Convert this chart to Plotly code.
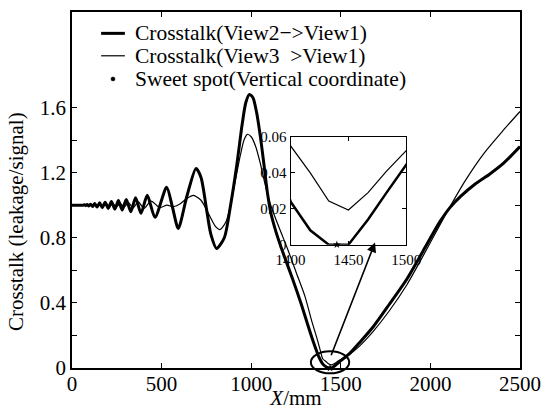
import plotly.graph_objects as go

# ---------------- data ----------------
# Crosstalk (View2 -> View1), thick curve
X_THICK = [0, 60, 70, 77, 85, 94, 104, 115, 127, 140, 154, 169, 185, 202, 220, 239,
           259, 280, 303, 328, 355, 385, 420, 463, 528, 560, 593, 640, 692, 720,
           750, 775, 807, 850, 885, 920, 950, 970, 990, 1010, 1030, 1050, 1070,
           1090, 1110, 1140, 1180, 1230, 1280, 1320, 1350, 1375, 1400, 1417, 1433,
           1450, 1467, 1483, 1500, 1550, 1600, 1681, 1770, 1868, 1960, 2054, 2109,
           2170, 2250, 2330, 2407, 2500]
Y_THICK = [1.0, 1.0, 1.002, 0.997, 1.004, 0.995, 1.006, 0.992, 1.010, 0.988, 1.014,
           0.984, 1.018, 0.980, 1.022, 0.975, 1.028, 0.970, 1.035, 0.960, 1.045,
           0.950, 1.060, 0.925, 1.110, 0.990, 0.857, 1.050, 1.225, 1.170, 0.980,
           0.820, 0.734, 0.800, 1.000, 1.250, 1.500, 1.630, 1.680, 1.660, 1.570,
           1.430, 1.260, 1.080, 0.950, 0.830, 0.700, 0.550, 0.390, 0.250, 0.150,
           0.075, 0.024, 0.008, 0.0, 0.0, 0.014, 0.029, 0.045, 0.090, 0.150, 0.253,
           0.390, 0.545, 0.720, 0.900, 0.985, 1.055, 1.130, 1.190, 1.256, 1.360]

# Crosstalk (View3 -> View1), thin curve
X_THIN = [0, 100, 134, 147, 162, 177, 194, 211, 229, 249, 269, 291, 315, 341, 370,
          402, 441, 490, 530, 565, 600, 640, 677, 720, 770, 800, 826, 860, 890,
          915, 940, 960, 978, 1000, 1025, 1050, 1075, 1100, 1125, 1160, 1200, 1250,
          1300, 1340, 1365, 1385, 1400, 1417, 1433, 1450, 1467, 1483, 1500, 1550,
          1600, 1681, 1770, 1868, 1960, 2054, 2109, 2200, 2300, 2407, 2500]
Y_THIN = [1.0, 1.0, 1.003, 0.997, 1.004, 0.996, 1.006, 0.994, 1.008, 0.991, 1.011,
          0.988, 1.015, 0.984, 1.020, 0.980, 1.025, 0.985, 1.000, 0.990, 1.005,
          1.040, 1.060, 1.030, 0.930, 0.870, 0.850, 0.900, 1.030, 1.170, 1.310,
          1.400, 1.435, 1.420, 1.360, 1.260, 1.140, 1.030, 0.950, 0.850, 0.740,
          0.590, 0.440, 0.280, 0.190, 0.110, 0.055, 0.040, 0.0243, 0.0193, 0.029,
          0.041, 0.0524, 0.085, 0.130, 0.225, 0.350, 0.510, 0.690, 0.880, 0.990,
          1.160, 1.320, 1.460, 1.575]

# Sweet spot (vertical coordinate)
SWEET_X = [1440]
SWEET_Y = [0.0]

X_TICKS = [0, 500, 1000, 1500, 2000, 2500]
Y_TICKS = [0, 0.2, 0.4, 0.6, 0.8, 1.0, 1.2, 1.4, 1.6]
Y_TICKTEXT = ["0", "", "0.4", "", "0.8", "", "1.2", "", "1.6"]
INSET_X_TICKS = [1400, 1450, 1500]
INSET_Y_TICKS = [0, 0.02, 0.04, 0.06]
INSET_Y_TICKTEXT = ["0", "0.02", "0.04", "0.06"]

LEGEND_NAMES = ["Crosstalk(View2\u2212>View1)",
                "Crosstalk(View3\u00a0\u00a0>View1)",
                "Sweet spot(Vertical coordinate)"]
X_TITLE = "<i>X</i>/mm"
Y_TITLE = "Crosstalk (leakage/signal)"

X_RANGE = [0, 2500]
Y_MAX = 2.186
INSET_X_RANGE = [1400, 1500]
INSET_Y_RANGE = [0, 0.06]

# zoom ellipse (data units) and arrow (data units)
ELL_CX, ELL_CY, ELL_RX, ELL_RY = 1440, 0.035, 107, 0.0675
ARROW_FROM = (1443, 0.069)
ARROW_TO = (1691, 0.770)

FONT = "Liberation Serif"

# legend layout (paper fractions of the plot area)
LEG_LINE_X = (0.065, 0.118)
LEG_TEXT_X = 0.136
LEG_ROWS_Y = [0.940, 0.877, 0.812]

fig = go.Figure()

# main traces
fig.add_trace(go.Scatter(x=X_THICK, y=Y_THICK, mode="lines", name=LEGEND_NAMES[0],
                         showlegend=False,
                         line=dict(color="black", width=3, shape="spline", smoothing=0.7),
                         xaxis="x", yaxis="y"))
fig.add_trace(go.Scatter(x=X_THIN, y=Y_THIN, mode="lines", name=LEGEND_NAMES[1],
                         showlegend=False,
                         line=dict(color="black", width=1.2, shape="spline", smoothing=0.7),
                         xaxis="x", yaxis="y"))
fig.add_trace(go.Scatter(x=SWEET_X, y=SWEET_Y, mode="markers", name=LEGEND_NAMES[2],
                         showlegend=False,
                         marker=dict(color="black", size=6, symbol="star"),
                         cliponaxis=False, xaxis="x", yaxis="y"))

# inset traces
fig.add_trace(go.Scatter(x=X_THICK, y=Y_THICK, mode="lines", showlegend=False,
                         line=dict(color="black", width=2.5),
                         xaxis="x2", yaxis="y2"))
fig.add_trace(go.Scatter(x=X_THIN, y=Y_THIN, mode="lines", showlegend=False,
                         line=dict(color="black", width=1.2),
                         xaxis="x2", yaxis="y2"))
fig.add_trace(go.Scatter(x=SWEET_X, y=SWEET_Y, mode="markers", showlegend=False,
                         marker=dict(color="black", size=6, symbol="star"),
                         cliponaxis=False, xaxis="x2", yaxis="y2"))

# legend drawn as samples + text
fig.add_shape(type="line", xref="paper", yref="paper", x0=LEG_LINE_X[0], x1=LEG_LINE_X[1],
              y0=LEG_ROWS_Y[0], y1=LEG_ROWS_Y[0], line=dict(color="black", width=3))
fig.add_shape(type="line", xref="paper", yref="paper", x0=LEG_LINE_X[0], x1=LEG_LINE_X[1],
              y0=LEG_ROWS_Y[1], y1=LEG_ROWS_Y[1], line=dict(color="black", width=1.2))
mx = (LEG_LINE_X[0] + LEG_LINE_X[1]) / 2
fig.add_shape(type="circle", xref="paper", yref="paper",
              x0=mx - 0.0045, x1=mx + 0.0045,
              y0=LEG_ROWS_Y[2] - 0.0056, y1=LEG_ROWS_Y[2] + 0.0056,
              fillcolor="black", line=dict(color="black", width=0.5))
for name, yy in zip(LEGEND_NAMES, LEG_ROWS_Y):
    fig.add_annotation(x=LEG_TEXT_X, y=yy, xref="paper", yref="paper", text=name,
                       showarrow=False, xanchor="left", yanchor="middle",
                       font=dict(family=FONT, size=21.5, color="black"))

# y-axis title (placed lower than centre, as in the reference)
fig.add_annotation(x=-0.125, y=0.41, xref="paper", yref="paper", text=Y_TITLE,
                   showarrow=False, textangle=-90, xanchor="center", yanchor="middle",
                   font=dict(family=FONT, size=21, color="black"))

# ellipse around the minimum (y expressed as paper fraction of the main y range)
fig.add_shape(type="circle", xref="x", yref="paper",
              x0=ELL_CX - ELL_RX, x1=ELL_CX + ELL_RX,
              y0=(ELL_CY - ELL_RY) / Y_MAX, y1=(ELL_CY + ELL_RY) / Y_MAX,
              line=dict(color="black", width=2), layer="above")

# arrow to the inset
fig.add_annotation(x=ARROW_TO[0], y=ARROW_TO[1], ax=ARROW_FROM[0], ay=ARROW_FROM[1],
                   xref="x", yref="y", axref="x", ayref="y", text="",
                   showarrow=True, arrowhead=2, arrowsize=1.2, arrowwidth=1.6,
                   arrowcolor="black")

axis_common = dict(showline=True, linecolor="black", mirror="ticks", ticks="inside",
                   tickcolor="black", showgrid=False, zeroline=False)

fig.update_layout(
    width=545, height=410,
    margin=dict(l=72, r=25, t=12, b=42),
    paper_bgcolor="white", plot_bgcolor="white",
    font=dict(family=FONT, color="black", size=21),
    showlegend=False,
    xaxis=dict(range=X_RANGE, tickvals=X_TICKS, ticklen=5, linewidth=1.6, tickwidth=1.3,
               tickfont=dict(family=FONT, size=21), ticklabelstandoff=-4,
               title=dict(text=X_TITLE, font=dict(family=FONT, size=21), standoff=4),
               domain=[0, 1], anchor="y", **axis_common),
    yaxis=dict(range=[0, Y_MAX], tickvals=Y_TICKS, ticktext=Y_TICKTEXT, ticklen=5,
               linewidth=1.6, tickwidth=1.3,
               tickfont=dict(family=FONT, size=21),
               domain=[0, 1], anchor="x", **axis_common),
    xaxis2=dict(range=INSET_X_RANGE, tickvals=INSET_X_TICKS, ticklen=4, linewidth=1.3,
                tickwidth=1, tickfont=dict(family=FONT, size=15), ticklabelstandoff=1,
                domain=[0.488, 0.746], anchor="y2", **axis_common),
    yaxis2=dict(range=INSET_Y_RANGE, tickvals=INSET_Y_TICKS, ticktext=INSET_Y_TICKTEXT,
                ticklen=4, linewidth=1.3, tickwidth=1, tickfont=dict(family=FONT, size=15),
                domain=[0.3464, 0.649], anchor="x2", **axis_common),
)
fig.update_xaxes(automargin=False)
fig.update_yaxes(automargin=False)

fig.write_html("out.html")
